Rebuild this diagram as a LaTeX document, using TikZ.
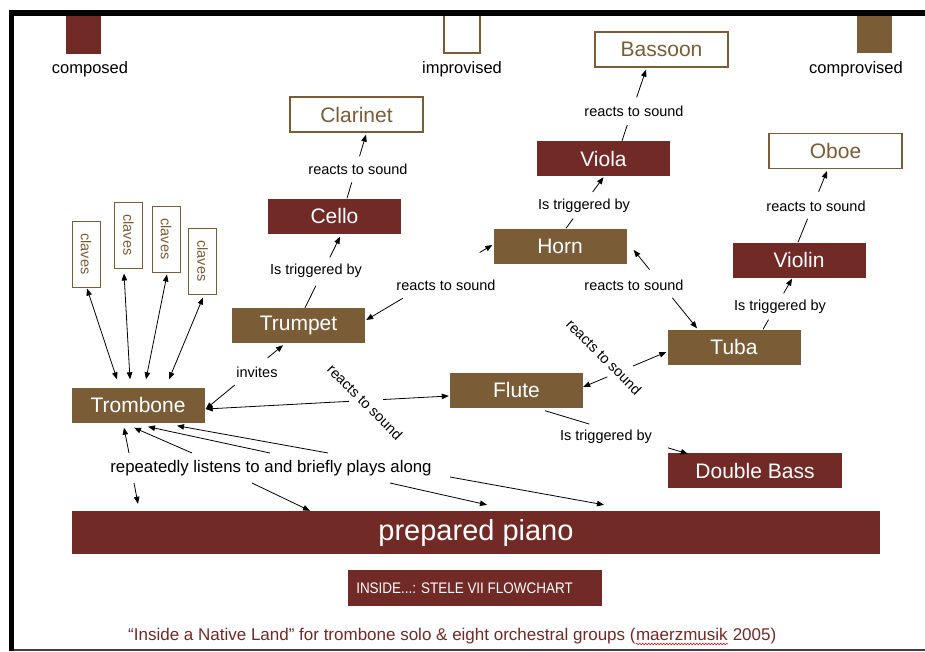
\documentclass[tikz,border=0pt]{standalone}
\usepackage{fontspec}
\setmainfont{Liberation Sans}
\usetikzlibrary{calc,arrows.meta,decorations.pathmorphing}
\definecolor{dred}{RGB}{114,42,38}
\definecolor{brn}{RGB}{122,93,55}
\begin{document}
\begin{tikzpicture}[x=1pt,y=-1pt,
  box/.style={minimum width=133pt,minimum height=35pt,inner sep=0pt,font=\fontsize{21}{21}\selectfont},
  redbox/.style={box,fill=dred,text=white},
  brnbox/.style={box,fill=brn,text=white},
  wbox/.style={box,draw=brn,line width=1.3pt,fill=white,text=brn},
  clbox/.style={draw=brn,line width=1pt,fill=white,text=brn,minimum width=28pt,minimum height=66pt,inner sep=0pt,font=\fontsize{14.5}{14.5}\selectfont},
  lab/.style={font=\fontsize{14.5}{14.5}\selectfont,inner sep=2pt},
  swlab/.style={font=\fontsize{16.5}{16.5}\selectfont,inner sep=1pt},
  captext/.style={text=dred,inner sep=0pt,anchor=base west,font=\fontsize{17}{17}\selectfont},
  conn/.style={draw=black,line width=0.8pt},
  atip/.style={-{Triangle[length=7pt,width=5.5pt]}},
  dtip/.style={{Triangle[length=7pt,width=5.5pt]}-{Triangle[length=7pt,width=5.5pt]}},
]
\useasboundingbox (0,0) rectangle (925,651);
\fill[white] (0,0) rectangle (925,651);
% frame
\fill[black] (9,10) rectangle (925,16);
\fill[black] (9,10) rectangle (14,651);
\fill[black!75] (14,649) rectangle (925,651);

% legend swatches
\node[fill=dred,minimum width=35pt,minimum height=38pt,inner sep=0pt] (sw1) at (83.5,35) {};
\node[swlab] (t1) at (90,69) {composed};
\draw[brn,line width=2pt] (444,16) -- (444,53) -- (480,53) -- (480,16);
\node[minimum width=38pt,minimum height=38pt,inner sep=0pt] (sw2) at (462,35) {};
\node[swlab] (t2) at (462,69) {improvised};
\node[fill=brn,minimum width=35pt,minimum height=37pt,inner sep=0pt] (sw3) at (874.5,34.5) {};
\node[swlab] (t3) at (856,69) {comprovised};

% instrument boxes
\node[wbox] (bassoon) at (661.5,49.5) {Bassoon};
\node[wbox] (clarinet) at (356.5,114.5) {Clarinet};
\node[wbox] (oboe) at (835.5,151) {Oboe};
\node[redbox] (viola) at (603.5,158.5) {Viola};
\node[redbox] (cello) at (334.5,216) {Cello};
\node[brnbox] (horn) at (560,246) {Horn};
\node[redbox] (violin) at (799,260) {Violin};
\node[brnbox] (trumpet) at (298.5,325.5) {Trumpet};
\node[brnbox] (tuba) at (734,347) {Tuba};
\node[brnbox] (flute) at (516.5,390) {Flute};
\node[brnbox] (trombone) at (138,405) {Trombone};
\node[redbox,minimum width=174pt] (dbass) at (755,470.5) {Double Bass};
\node[redbox,minimum width=808pt,minimum height=43pt,font=\fontsize{29}{29}\selectfont] (piano) at (476,532.5) {prepared piano};
\node[redbox,minimum width=254pt,minimum height=36pt,font=\fontsize{15.3}{15.3}\selectfont] (inside) at (475,588) {\scalebox{0.88}[1]{INSIDE...: STELE VII FLOWCHART}\hspace*{21pt}};

% caption
\node[captext] (cap1) at (128,640) {“Inside a Native Land” for trombone solo \& eight orchestral groups (};
\node[captext] (cap2) at (cap1.base east) {maerzmusik};
\node[captext,xshift=4.7pt] (cap3) at (cap2.base east) {2005)};
\draw[red!80!black,line width=0.5pt,decorate,decoration={snake,amplitude=0.8pt,segment length=3pt}] ($(cap2.base west)+(0,4)$) -- ($(cap2.base east)+(0,4)$);

% claves
\node[clbox] (c1) at (86,254) {\rotatebox{-90}{claves}};
\node[clbox] (c2) at (128.5,235) {\rotatebox{-90}{claves}};
\node[clbox] (c3) at (166,239) {\rotatebox{-90}{claves}};
\node[clbox] (c4) at (202.5,261) {\rotatebox{-90}{claves}};

% labels
\node[lab] (l1) at (634,111) {reacts to sound};
\node[lab] (l2) at (584,206) {Is triggered by};
\node[lab] (l3) at (358,169) {reacts to sound};
\node[lab] (l4) at (316,271) {Is triggered by};
\node[lab] (l5) at (446,285) {reacts to sound};
\node[lab] (l6) at (634,285) {reacts to sound};
\node[lab] (l7) at (816,206) {reacts to sound};
\node[lab] (l8) at (780,307) {Is triggered by};
\node[lab] (l9) at (257,372) {invites};
\node[lab,rotate=-45] (l10) at (365,402) {reacts to sound};
\node[lab,rotate=-45] (l11) at (604,357) {reacts to sound};
\node[lab] (l12) at (606,437) {Is triggered by};
\node[swlab,font=\fontsize{16.8}{16.8}\selectfont] (rep) at (271,468) {repeatedly listens to and briefly plays along};

% connectors (split around labels)
% Viola -> Bassoon
\draw[conn] ($(viola.north)+(18.5,0)$) -- ($($(viola.north)+(18.5,0)$)!0.22!($(bassoon.south)+(-15.5,2)$)$);
\draw[conn,atip] ($($(viola.north)+(18.5,0)$)!0.61!($(bassoon.south)+(-15.5,2)$)$) -- ($(bassoon.south)+(-15.5,2)$);
% Horn -> Viola
\draw[conn] ($(horn.north)+(6,0)$) -- ($($(horn.north)+(6,0)$)!0.19!($(viola.south)+(0,1)$)$);
\draw[conn,atip] ($($(horn.north)+(6,0)$)!0.71!($(viola.south)+(0,1)$)$) -- ($(viola.south)+(0,1)$);
% Cello -> Clarinet
\draw[conn] ($(cello.north)+(12.5,0)$) -- ($($(cello.north)+(12.5,0)$)!0.25!($(clarinet.south)+(9.5,2)$)$);
\draw[conn,atip] ($($(cello.north)+(12.5,0)$)!0.66!($(clarinet.south)+(9.5,2)$)$) -- ($(clarinet.south)+(9.5,2)$);
% Trumpet -> Cello
\draw[conn] ($(trumpet.north)+(6.5,0)$) -- ($($(trumpet.north)+(6.5,0)$)!0.31!($(cello.south)+(5.5,3)$)$);
\draw[conn,atip] ($($(trumpet.north)+(6.5,0)$)!0.71!($(cello.south)+(5.5,3)$)$) -- ($(cello.south)+(5.5,3)$);
% Trumpet <-> Horn
\draw[conn,atip] ($($(trumpet.east)+(1,-5.5)$)!0.29!($(horn.west)+(-1,-1)$)$) -- ($(trumpet.east)+(1,-5.5)$);
\draw[conn,atip] ($($(trumpet.east)+(1,-5.5)$)!0.90!($(horn.west)+(-1,-1)$)$) -- ($(horn.west)+(-1,-1)$);
% Horn <-> Tuba
\draw[conn,atip] ($($(horn.east)+(7,4)$)!0.25!($(tuba.north)+(-37,-1)$)$) -- ($(horn.east)+(7,4)$);
\draw[conn,atip] ($($(horn.east)+(7,4)$)!0.61!($(tuba.north)+(-37,-1)$)$) -- ($(tuba.north)+(-37,-1)$);
% Violin -> Oboe
\draw[conn] ($(violin.north)+(-1,0)$) -- ($($(violin.north)+(-1,0)$)!0.33!($(oboe.south)+(-8.5,2)$)$);
\draw[conn,atip] ($($(violin.north)+(-1,0)$)!0.71!($(oboe.south)+(-8.5,2)$)$) -- ($(oboe.south)+(-8.5,2)$);
% Tuba -> Violin
\draw[conn] ($(tuba.north)+(29,0)$) -- ($($(tuba.north)+(29,0)$)!0.19!($(violin.south)+(-7,1)$)$);
\draw[conn,atip] ($($(tuba.north)+(29,0)$)!0.71!($(violin.south)+(-7,1)$)$) -- ($(violin.south)+(-7,1)$);
% Trombone <-> Trumpet (invites)
\draw[conn,atip] ($($(trombone.east)+(1,4)$)!0.375!($(trumpet.south)+(-15.5,2)$)$) -- ($(trombone.east)+(1,4)$);
\draw[conn,atip] ($($(trombone.east)+(1,4)$)!0.80!($(trumpet.south)+(-15.5,2)$)$) -- ($(trumpet.south)+(-15.5,2)$);
% Trombone <-> Flute
\draw[conn,atip] ($($(trombone.east)+(1,4)$)!0.59!($(flute.west)+(-1,6)$)$) -- ($(trombone.east)+(1,4)$);
\draw[conn,atip] ($($(trombone.east)+(1,4)$)!0.73!($(flute.west)+(-1,6)$)$) -- ($(flute.west)+(-1,6)$);
% Flute <-> Tuba
\draw[conn,atip] ($($(flute.east)+(0,-3)$)!0.29!($(tuba.west)+(-1,5)$)$) -- ($(flute.east)+(0,-3)$);
\draw[conn,atip] ($($(flute.east)+(0,-3)$)!0.60!($(tuba.west)+(-1,5)$)$) -- ($(tuba.west)+(-1,5)$);
% Flute -> Double Bass
\draw[conn] ($(flute.south)+(28.5,3)$) -- ($($(flute.south)+(28.5,3)$)!0.31!($(dbass.north west)+(20,1)$)$);
\draw[conn,atip] ($($(flute.south)+(28.5,3)$)!0.86!($(dbass.north west)+(20,1)$)$) -- ($(dbass.north west)+(20,1)$);
% claves <-> Trombone
\draw[conn,dtip] ($(c1.south)+(1,1)$) -- ($(trombone.north)+(-21,-8)$);
\draw[conn,dtip] ($(c2.south)+(-4.5,5)$) -- ($(trombone.north)+(-8,-8)$);
\draw[conn,dtip] ($(c3.south)+(1,2)$) -- ($(trombone.north)+(8,-8)$);
\draw[conn,dtip] ($(c4.south)+(0.5,3)$) -- ($(trombone.north)+(31,-8)$);
% Trombone <- label -> piano
\draw[conn,atip] ($(rep)+(-142,-15)$) -- ($(trombone.south)+(-14,5)$);
\draw[conn,atip] ($(rep)+(-79,-15)$) -- ($(trombone.south)+(-4,5)$);
\draw[conn,atip] ($(rep)+(-1,-15)$) -- ($(trombone.south)+(10,4)$);
\draw[conn,atip] ($(rep)+(57,-15)$) -- ($(trombone.south)+(39,3)$);
\draw[conn,atip] ($(rep)+(-137,15)$) -- ($(piano.north)+(-338,-7)$);
\draw[conn,atip] ($(rep)+(-19,15)$) -- ($(piano.north)+(-166,0)$);
\draw[conn,atip] ($(rep)+(119,15)$) -- ($(piano.north)+(11,-6)$);
\draw[conn,atip] ($(rep)+(179,9)$) -- ($(piano.north)+(128,-6)$);
\end{tikzpicture}
\end{document}
